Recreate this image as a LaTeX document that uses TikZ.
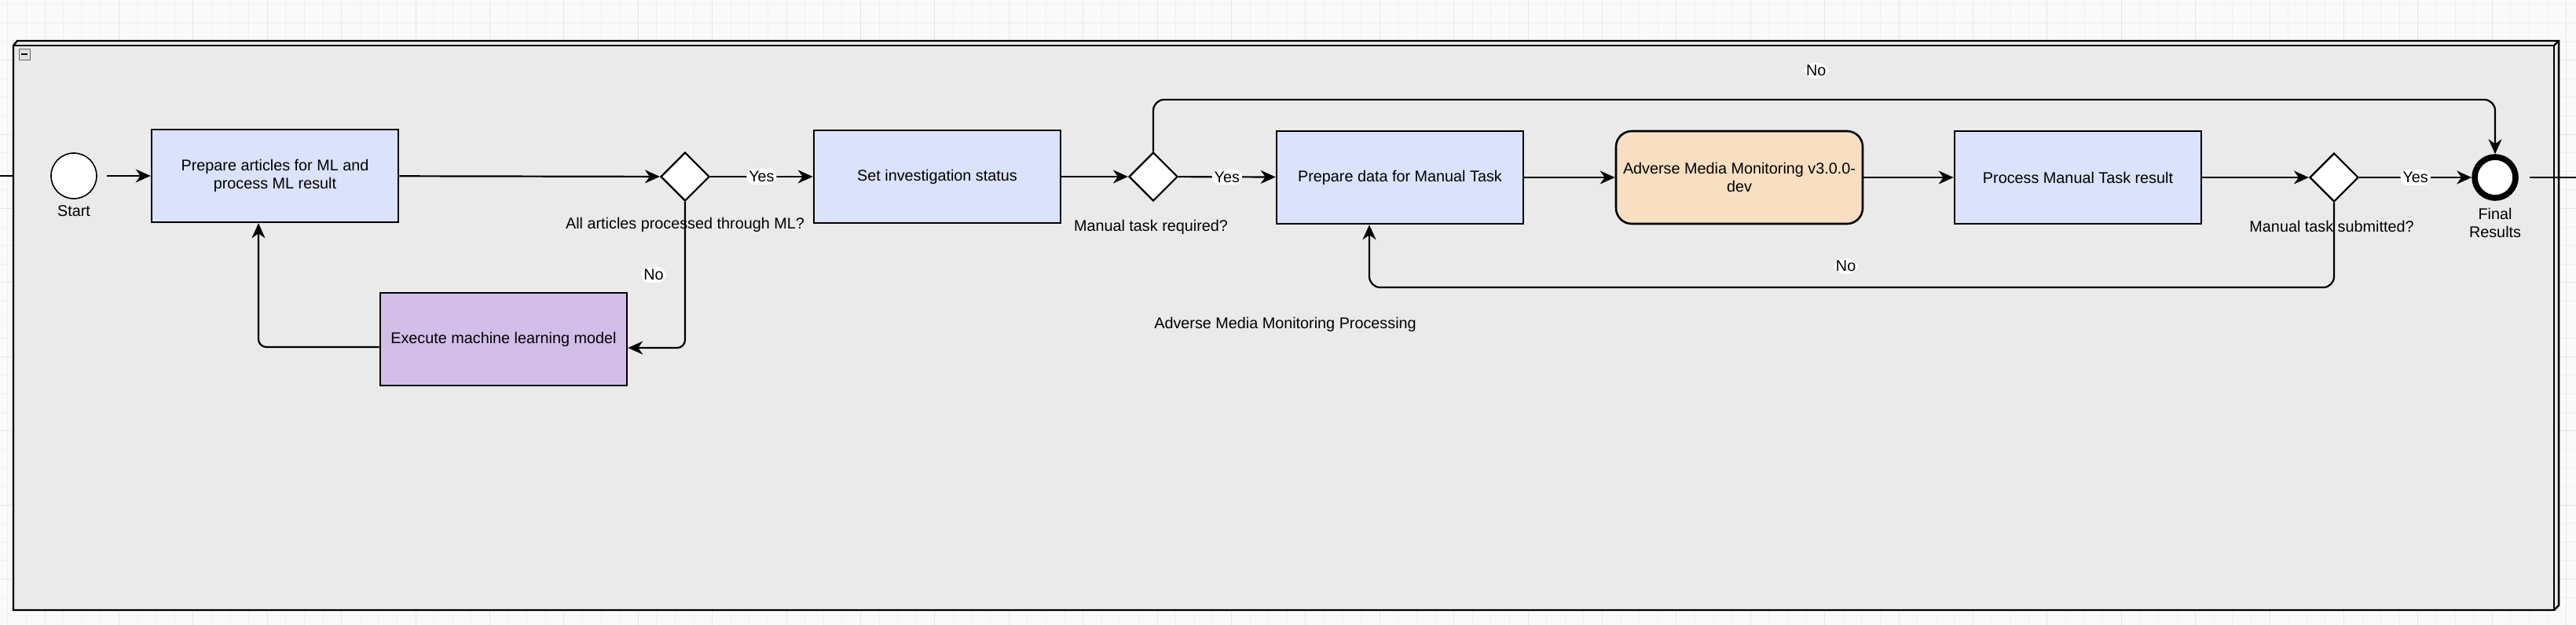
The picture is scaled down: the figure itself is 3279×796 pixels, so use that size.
\documentclass[tikz,border=0pt]{standalone}
\usepackage{fontspec}
\setmainfont{Liberation Sans}
\usetikzlibrary{arrows.meta,shapes.geometric}
\definecolor{ampaper}{HTML}{FAFAFA}
\definecolor{amgrid}{HTML}{F0F0F0}
\definecolor{amgridmajor}{HTML}{E6E6E6}
\definecolor{amlane}{HTML}{EAEAEA}
\definecolor{amblue}{HTML}{DAE2FC}
\definecolor{ampurple}{HTML}{D3BDE9}
\definecolor{amorange}{HTML}{F9DFC2}

\begin{document}
\begin{tikzpicture}[x=0.5pt,y=-0.5pt,
 font=\fontsize{9.9}{11.8}\selectfont,
 taskbox/.style={draw,line width=1.3pt,align=center,minimum width=157pt,minimum height=59pt,inner sep=2pt},
 gatebox/.style={diamond,draw,fill=white,line width=1.1pt,minimum width=31pt,minimum height=31pt,inner sep=0pt},
 startev/.style={circle,draw,fill=white,line width=0.8pt,minimum size=29pt,inner sep=0pt},
 endev/.style={circle,draw,fill=white,line width=3.8pt,minimum size=26pt,inner sep=0pt},
 caption/.style={align=center,inner sep=1pt},
 flowlabel/.style={fill=white,inner sep=1.5pt},
 flowline/.style={line width=1.1pt},
 flowarrow/.style={-{Stealth[length=9.5pt,width=8.5pt,inset=3pt]},line width=1.1pt,rounded corners=5pt}
]
\useasboundingbox (0,0) rectangle (3279,796);
% canvas and grid
\fill[ampaper] (0,0) rectangle (3279,796);
\foreach \gi in {0,...,138} \draw[amgrid,line width=0.4pt] ({9.8+23.6*\gi},0) -- ({9.8+23.6*\gi},796);
\foreach \gj in {0,...,33} \draw[amgrid,line width=0.4pt] (0,{5.8+23.6*\gj}) -- (3279,{5.8+23.6*\gj});
\foreach \gi in {0,...,34} \draw[amgridmajor,line width=0.4pt] ({57+94.4*\gi},0) -- ({57+94.4*\gi},796);
\foreach \gj in {0,...,7} \draw[amgridmajor,line width=0.4pt] (0,{76.6+94.4*\gj}) -- (3279,{76.6+94.4*\gj});

% sub-process frame
\fill[amlane,draw=black,line width=1.2pt] (17,58) -- (22,52) -- (3257,52) -- (3257,771) -- (3251,777) -- (17,777) -- cycle;
\draw[line width=1.2pt] (17,58) rectangle (3251,777);
\draw[line width=1.2pt] (3251,58) -- (3257,52);
\node[draw=black!60,fill=black!12,minimum size=7pt,inner sep=0pt,line width=0.4pt] (collapse) at (31,69) {};
\draw[line width=0.9pt] ([xshift=-2.2pt]collapse.center) -- ([xshift=2.2pt]collapse.center);
\node[caption] (lanetitle) at (1636,413) {Adverse Media Monitoring Processing};

% flow nodes
\node[startev] (start) at (94,224) {};
\node[caption] (startlbl) at (94,269) {Start};
\node[taskbox,fill=amblue] (prep) at (350,224) {Prepare articles for ML and\\process ML result};
\node[gatebox] (gml) at (872,225) {};
\node[caption] (gmllbl) at (872,286) {All articles processed through ML?};
\node[taskbox,fill=ampurple] (ml) at (641,432) {Execute machine learning model};
\node[taskbox,fill=amblue] (status) at (1193,225) {Set investigation status};
\node[gatebox] (gmt) at (1468,225) {};
\node[caption] (gmtlbl) at (1465,289) {Manual task required?};
\node[taskbox,fill=amblue] (pdm) at (1782,226) {Prepare data for Manual Task};
\node[taskbox,fill=amorange,rounded corners=10pt] (amm) at (2214,226) {Adverse Media Monitoring v3.0.0-\\dev};
\node[taskbox,fill=amblue] (pmt) at (2645,226) {Process Manual Task result};
\node[gatebox] (gsub) at (2971,226) {};
\node[caption] (gsublbl) at (2968,288) {Manual task submitted?};
\node[endev] (final) at (3176,226) {};
\node[caption] (finallbl) at (3176,284) {Final\\Results};
\coordinate (inflow) at (0,224);
\coordinate (laneW) at (17,224);
\coordinate (outflow) at (3279,226);

% connectors
\draw[flowline] (inflow) -- (laneW);
\draw[flowline] ([xshift=7pt]final.east) -- (outflow);
\draw[flowarrow] ([xshift=6pt]start.east) -- (prep);
\draw[flowarrow] (prep) -- (gml);
\draw[flowarrow] (gml) -- node[flowlabel]{Yes} (status);
\draw[flowarrow] (gml.south) |- node[flowlabel,pos=0.25,xshift=-20pt]{No} ([yshift=-5.5pt]ml.east);
\draw[flowarrow] ([yshift=-5pt]ml.west) -| ([xshift=-10.5pt]prep.south);
\draw[flowarrow] (status) -- (gmt);
\draw[flowarrow] (gmt) -- node[flowlabel]{Yes} (pdm);
\draw[flowarrow,rounded corners=7pt] (gmt.north) -- ++(0,-66) -| node[flowlabel,pos=0.247,yshift=18.5pt]{No} (final.north);
\draw[flowarrow] (pdm) -- (amm);
\draw[flowarrow] (amm) -- (pmt);
\draw[flowarrow] (pmt) -- (gsub);
\draw[flowarrow] (gsub) -- node[flowlabel]{Yes} (final);
\draw[flowarrow,rounded corners=7pt] (gsub.south) -- ++(0,108) -| node[flowlabel,pos=0.253,yshift=13.5pt]{No} ([xshift=-19.5pt]pdm.south);
\end{tikzpicture}
\end{document}
